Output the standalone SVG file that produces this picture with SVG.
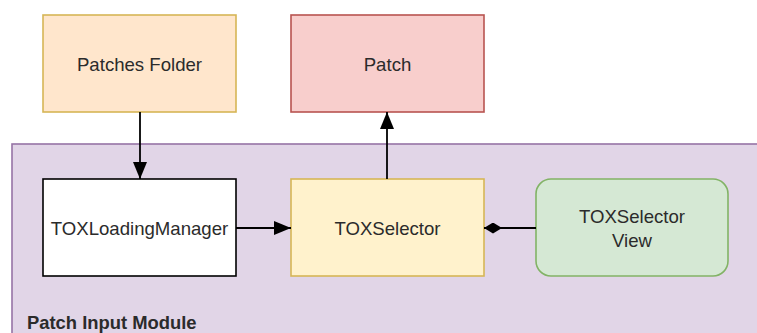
<svg xmlns="http://www.w3.org/2000/svg" width="757" height="333" viewBox="0 0 757 333">
  <style>
    .box { stroke-width: 1.6; }
    .lbl { font-family: "Liberation Sans", Arial, sans-serif; font-size: 18.6px; fill: #2b2b2b; text-anchor: middle; }
    .title { font-family: "Liberation Sans", Arial, sans-serif; font-size: 18.4px; font-weight: bold; fill: #2b2b2b; }
    .edge { stroke: #000; stroke-width: 1.8; fill: none; }
  </style>
  <defs>
    <marker id="arrow" viewBox="0 0 17 14" refX="17" refY="7" markerWidth="17" markerHeight="14" markerUnits="userSpaceOnUse" orient="auto">
      <path d="M0,0 L17,7 L0,14 Z" fill="#000"/>
    </marker>
    <marker id="diamond" viewBox="0 0 18 11" refX="0" refY="5.5" markerWidth="18" markerHeight="11" markerUnits="userSpaceOnUse" orient="auto">
      <path d="M0,5.5 L9,0 L18,5.5 L9,11 Z" fill="#000"/>
    </marker>
  </defs>
  <rect width="757" height="333" fill="#ffffff"/>

  <!-- container -->
  <g id="patch-input-module">
    <rect x="12" y="144" width="760" height="200" fill="#e1d5e7" stroke="#9673a6" stroke-width="1.6"/>
    <text class="title" x="27" y="329">Patch Input Module</text>
  </g>

  <g id="patches-folder">
    <rect class="box" x="43" y="15" width="193" height="97" fill="#ffe6cc" stroke="#d6b656"/>
    <text class="lbl" x="139.5" y="70.5">Patches Folder</text>
  </g>

  <g id="patch">
    <rect class="box" x="291" y="15" width="193" height="97" fill="#f8cecc" stroke="#b85450"/>
    <text class="lbl" x="387.5" y="70.5">Patch</text>
  </g>

  <g id="tox-loading-manager">
    <rect class="box" x="43" y="179" width="193" height="97" fill="#ffffff" stroke="#000000"/>
    <text class="lbl" x="139.5" y="235">TOXLoadingManager</text>
  </g>

  <g id="tox-selector">
    <rect class="box" x="291" y="179" width="193" height="97" fill="#fff2cc" stroke="#d6b656"/>
    <text class="lbl" x="387.5" y="235">TOXSelector</text>
  </g>

  <g id="tox-selector-view">
    <rect class="box" x="536" y="179" width="192" height="97" rx="15" ry="15" fill="#d5e8d4" stroke="#82b366"/>
    <text class="lbl" x="632" y="223">TOXSelector</text>
    <text class="lbl" x="632" y="246.5">View</text>
  </g>

  <g id="connectors">
    <path class="edge" d="M140,112 L140,179" marker-end="url(#arrow)"/>
    <path class="edge" d="M387,179 L387,112" marker-end="url(#arrow)"/>
    <path class="edge" d="M236,228 L291,228" marker-end="url(#arrow)"/>
    <path class="edge" d="M484,228 L536,228" marker-start="url(#diamond)"/>
  </g>
</svg>
